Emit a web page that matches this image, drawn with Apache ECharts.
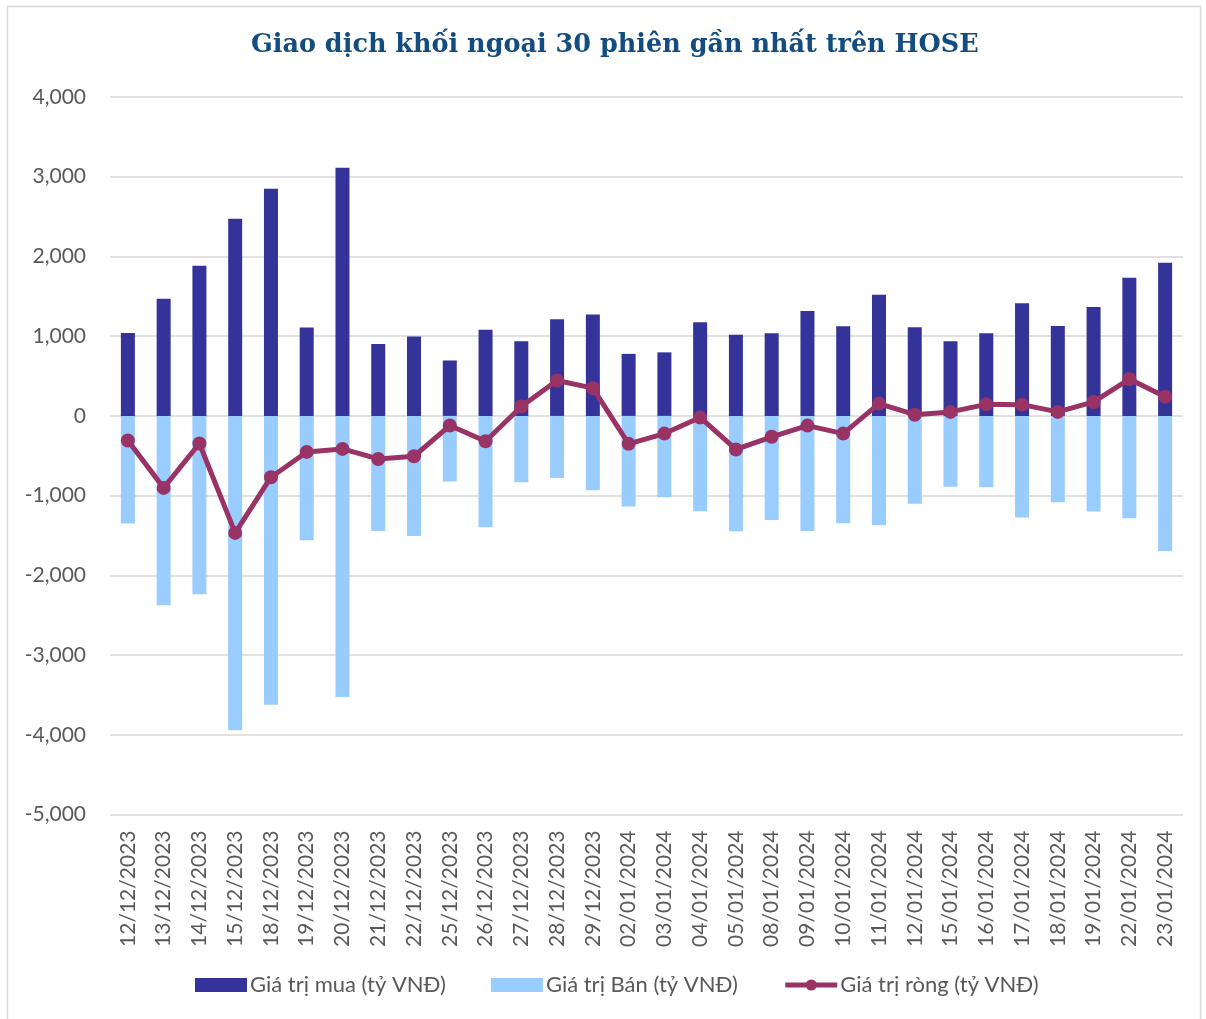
<!DOCTYPE html>
<html>
<head>
<meta charset="utf-8">
<script src="https://cdn.jsdelivr.net/npm/echarts@6/dist/echarts.min.js"></script>
<style>
html,body{margin:0;padding:0;background:#fff;}
#chart{width:1206px;height:1019px;}
</style>
</head>
<body>
<div id="chart"></div>
<script>
const titleText = 'Giao dịch khối ngoại 30 phiên gần nhất trên HOSE';
const categories = ['12/12/2023','13/12/2023','14/12/2023','15/12/2023','18/12/2023','19/12/2023','20/12/2023','21/12/2023','22/12/2023','25/12/2023','26/12/2023','27/12/2023','28/12/2023','29/12/2023','02/01/2024','03/01/2024','04/01/2024','05/01/2024','08/01/2024','09/01/2024','10/01/2024','11/01/2024','12/01/2024','15/01/2024','16/01/2024','17/01/2024','18/01/2024','19/01/2024','22/01/2024','23/01/2024'];
const buyValues = [1040,1470,1882,2472,2848,1109,3112,903,996,695,1079,937,1213,1272,778,797,1174,1019,1036,1317,1124,1520,1111,937,1036,1412,1128,1365,1734,1922];
const sellValues = [-1350,-2376,-2238,-3944,-3624,-1560,-3525,-1443,-1506,-823,-1397,-832,-778,-932,-1137,-1022,-1196,-1447,-1305,-1443,-1347,-1372,-1102,-889,-894,-1275,-1083,-1200,-1284,-1695];
const netValues = [-309,-903,-347,-1468,-769,-452,-414,-540,-506,-121,-318,118,444,348,-351,-222,-20,-421,-262,-122,-222,154,15,50,145,141,50,175,462,240];
const seriesNames = ['Giá trị mua (tỷ VNĐ)','Giá trị Bán (tỷ VNĐ)','Giá trị ròng (tỷ VNĐ)'];
const yTicks = {min:-5000, max:4000, interval:1000};

const chart = echarts.init(document.getElementById('chart'));
const fmt = v => v.toLocaleString('en-US');
chart.setOption({
  animation:false,
  backgroundColor:'#ffffff',
  graphic:[{
    type:'rect', shape:{x:7.5,y:6.5,width:1193,height:1030},
    style:{fill:'none',stroke:'#d9d9d9',lineWidth:1.5}, silent:true, z:-1
  }],
  title:{
    text:titleText, left:246, top:27,
    textStyle:{fontFamily:'DejaVu Serif',fontWeight:'bold',fontSize:25.5,color:'#134c80'}
  },
  legend:{
    bottom:18, left:190, itemWidth:52, itemHeight:14, itemGap:45,
    textStyle:{fontFamily:'Lato',fontSize:22,color:'#595959',padding:[0,0,0,-2]},
    data:[
      {name:seriesNames[0], icon:'rect'},
      {name:seriesNames[1], icon:'rect'},
      {name:seriesNames[2], lineStyle:{width:5,color:'#993366'}, itemStyle:{color:'#993366'}}
    ]
  },
  grid:{left:110,right:23,top:97,height:717.5,containLabel:false},
  xAxis:{
    type:'category', data:categories,
    axisLine:{show:false,onZero:false}, axisTick:{show:false},
    axisLabel:{rotate:90,interval:0,margin:16,fontFamily:'Lato',fontSize:21,color:'#595959'}
  },
  yAxis:{
    type:'value', min:yTicks.min, max:yTicks.max, interval:yTicks.interval,
    axisLine:{show:false}, axisTick:{show:false},
    axisLabel:{margin:24,fontFamily:'Lato',fontSize:21,color:'#595959',formatter:fmt},
    splitLine:{lineStyle:{color:'#d9d9d9',width:1.5}}
  },
  series:[
    {name:seriesNames[0], type:'bar', data:buyValues, barWidth:14, barGap:'-100%',
     itemStyle:{color:'#333399'}},
    {name:seriesNames[1], type:'bar', data:sellValues, barWidth:14, barGap:'-100%',
     itemStyle:{color:'#99ccff'}},
    {name:seriesNames[2], type:'line', data:netValues, symbol:'circle', symbolSize:14,
     lineStyle:{color:'#993366',width:5}, itemStyle:{color:'#993366'}, z:5}
  ]
});
</script>
</body>
</html>
